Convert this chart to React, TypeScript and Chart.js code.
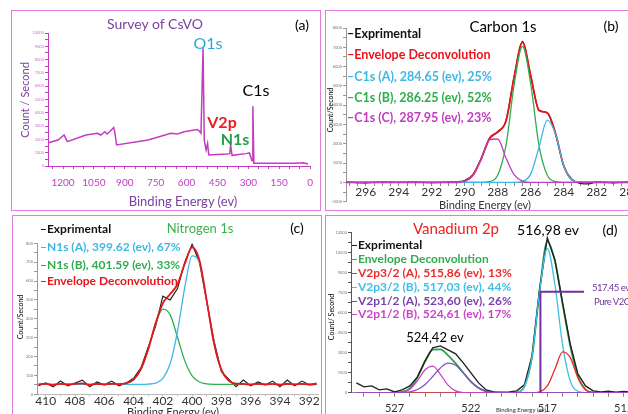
import React, { useEffect, useRef } from 'react';
import { Chart, registerables } from 'chart.js';

Chart.register(...registerables);

const FONT = 'Lato, "Open Sans", sans-serif';

// ---------- (a) Survey of CsVO ----------
const surveyEnergy = [1271, 1224, 1195, 1179, 1089, 1033, 1017, 997, 986, 970, 954, 949, 940, 787, 676, 644, 612, 549, 541, 530, 520, 514, 505, 498, 492, 406, 390, 386, 379, 311, 295, 282, 278, 273, 73, 33, 10];
const surveyCounts = [1.75, 1.95, 2.33, 1.83, 2.33, 2.46, 2.33, 2.58, 2.41, 2.63, 2.9, 2.58, 1.58, 1.95, 2.46, 2.41, 2.58, 2.75, 2.66, 2.46, 8.85, 1.95, 1.2, 1.7, 0.83, 0.9, 0.93, 1.58, 0.8, 0.93, 0.98, 0.4, 4.5, 0.2, 0.2, 0.25, 0.15];

// ---------- (b) Carbon 1s ----------
const c1sEnergy = [297.2, 296, 295, 294, 293, 292, 291, 290.5, 290, 289.5, 289, 288.5, 288, 287.5, 287, 286.5, 286, 285.5, 285, 284.5, 284, 283.5, 283, 282.5, 282, 281, 280, 279.8];
const c1sExp = [0.02, -0.02, 0.03, 0, 0.02, -0.01, 0.02, 0.03, 0.1, 0.42, 1.25, 2.3, 2.6, 3.2, 5.5, 7.3, 5.5, 3.75, 3.6, 2.5, 0.85, 0.15, -0.05, -0.08, 0.02, -0.02, 0.03, 0];
const c1sEnvelope = [0, 0, 0, 0, 0, 0, 0, 0, 0.06, 0.37, 1.22, 2.26, 2.63, 3.18, 5.48, 7.25, 5.53, 3.73, 3.61, 2.56, 0.86, 0.13, 0.01, 0, 0, 0, 0, 0];
const c1sA = [0, 0, 0, 0, 0, 0, 0, 0, 0, 0, 0, 0, 0, 0, 0, 0.05, 0.44, 1.81, 3.23, 2.52, 0.86, 0.13, 0.01, 0, 0, 0, 0, 0];
const c1sB = [0, 0, 0, 0, 0, 0, 0, 0, 0, 0, 0, 0.04, 0.38, 1.92, 5.09, 7.05, 5.09, 1.92, 0.38, 0.04, 0, 0, 0, 0, 0, 0, 0, 0];
const c1sC = [0, 0, 0, 0, 0, 0, 0, 0, 0.06, 0.37, 1.22, 2.22, 2.25, 1.26, 0.39, 0.07, 0, 0, 0, 0, 0, 0, 0, 0, 0, 0, 0, 0];

// ---------- (c) Nitrogen 1s ----------
const n1sEnergy = [410.5, 410, 409.5, 409, 408.5, 408, 407.5, 407, 406.5, 406, 405.5, 405, 404.5, 404, 403.5, 403, 402.5, 402, 401.5, 401, 400.5, 400, 399.5, 399, 398.5, 398, 397.5, 397, 396.5, 396, 395.5, 395, 394.5, 394, 393.5, 393, 392.5, 392, 391.5];
const n1sExp = [0.45, 0.6, 0.4, 0.7, 0.45, 0.6, 0.75, 0.4, 0.65, 0.5, 0.7, 0.45, 0.6, 0.85, 1.4, 2.5, 3.6, 5.2, 5.0, 5.6, 7.0, 7.95, 7.0, 4.9, 2.8, 1.2, 0.8, 0.4, 0.75, 0.45, 0.65, 0.5, 0.7, 0.4, 0.75, 0.45, 0.7, 0.5, 0.6];
const n1sEnvelope = [0.53, 0.56, 0.5, 0.55, 0.52, 0.55, 0.58, 0.5, 0.55, 0.52, 0.56, 0.54, 0.59, 0.78, 1.33, 2.39, 3.76, 4.82, 5.31, 5.83, 6.92, 7.78, 7.1, 4.95, 2.69, 1.29, 0.72, 0.56, 0.55, 0.51, 0.56, 0.52, 0.55, 0.5, 0.56, 0.52, 0.55, 0.52, 0.54];
const n1sA = [0.53, 0.53, 0.53, 0.53, 0.53, 0.53, 0.53, 0.53, 0.53, 0.53, 0.53, 0.53, 0.53, 0.53, 0.53, 0.54, 0.59, 0.84, 1.63, 3.34, 5.68, 7.33, 6.98, 4.93, 2.69, 1.29, 0.72, 0.56, 0.53, 0.53, 0.53, 0.53, 0.53, 0.53, 0.53, 0.53, 0.53, 0.53, 0.53];
const n1sB = [0.53, 0.53, 0.53, 0.53, 0.53, 0.53, 0.53, 0.53, 0.53, 0.53, 0.53, 0.54, 0.59, 0.78, 1.33, 2.38, 3.7, 4.51, 4.21, 3.02, 1.77, 0.98, 0.65, 0.55, 0.53, 0.53, 0.53, 0.53, 0.53, 0.53, 0.53, 0.53, 0.53, 0.53, 0.53, 0.53, 0.53, 0.53, 0.53];

// ---------- (d) Vanadium 2p ----------
const v2pEnergy = [529.5, 529, 528.5, 528, 527.5, 527, 526.5, 526, 525.5, 525, 524.5, 524, 523.5, 523, 522.5, 522, 521.5, 521, 520.5, 520, 519.5, 519, 518.5, 518, 517.5, 517, 516.5, 516, 515.5, 515, 514.5, 514, 513.5, 513, 512.5, 512, 511.5, 511];
const v2pExp = [0.5, 0.3, 0.35, 0.15, 0.2, 0.05, 0.15, 0.35, 0.8, 1.6, 2.25, 2.35, 2.15, 1.95, 1.5, 1.0, 0.5, 0.15, 0.05, 0.03, 0.05, 0.1, 0.4, 1.85, 5.2, 7.75, 6.65, 4.5, 2.45, 0.95, 0.35, 0.1, 0.05, 0.08, 0.03, 0.07, 0.04, 0.05];
const v2pEnvelope = [0, 0, 0, 0, 0, 0, 0.05, 0.23, 0.77, 1.58, 2.16, 2.18, 1.88, 1.48, 1.01, 0.56, 0.25, 0.08, 0.02, 0, 0, 0.03, 0.33, 1.8, 5.15, 7.58, 6.59, 4.45, 2.36, 0.84, 0.17, 0.02, 0, 0, 0, 0, 0, 0];
const v2p32A = [0, 0, 0, 0, 0, 0, 0, 0, 0, 0, 0, 0, 0, 0, 0, 0, 0, 0, 0, 0, 0, 0, 0, 0, 0.05, 0.35, 1.19, 2.05, 1.76, 0.76, 0.16, 0.02, 0, 0, 0, 0, 0, 0];
const v2p32B = [0, 0, 0, 0, 0, 0, 0, 0, 0, 0, 0, 0, 0, 0, 0, 0, 0, 0, 0, 0, 0, 0.03, 0.33, 1.8, 5.1, 7.23, 5.4, 2.4, 0.6, 0.08, 0.01, 0, 0, 0, 0, 0, 0, 0];
const v2p12A = [0, 0, 0, 0, 0, 0, 0.02, 0.05, 0.17, 0.42, 0.82, 1.25, 1.49, 1.38, 1.0, 0.56, 0.25, 0.08, 0.02, 0, 0, 0, 0, 0, 0, 0, 0, 0, 0, 0, 0, 0, 0, 0, 0, 0, 0, 0];
const v2p12B = [0, 0, 0, 0, 0, 0, 0.03, 0.18, 0.6, 1.16, 1.34, 0.93, 0.39, 0.1, 0.01, 0, 0, 0, 0, 0, 0, 0, 0, 0, 0, 0, 0, 0, 0, 0, 0, 0, 0, 0, 0, 0, 0, 0];
const pureV2O5Energy = [517.45, 517.45, 514.6];
const pureV2O5Level = [0, 5.06, 5.06];

type Line = { x: number[]; y: number[]; color: string; width: number; smooth?: boolean };
type PanelCfg = {
  left: number; top: number; width: number; height: number;
  pad: { left: number; top: number; right: number; bottom: number };
  xH: number; yW: number;
  lines: Line[];
  xMin: number; xMax: number; xStep: number; xLabel: (v: number) => string;
  xFont: number; xColor: string; xPad: number; xTick: number; xAxisColor: string; xAtZero?: boolean;
  yMin: number; yMax: number; yStep: number; yLabel: (v: number) => string;
  yColor: string; yAxisColor: string;
};

const isInt = (v: number) => Math.abs(v - Math.round(v)) < 1e-6;

const panels: PanelCfg[] = [
  {
    left: 12, top: 11, width: 309, height: 200,
    pad: { left: 16, top: 22, right: 5, bottom: 15 }, xH: 30, yW: 20,
    lines: [{ x: surveyEnergy, y: surveyCounts, color: '#c23cc2', width: 1.5 }],
    xMin: 0, xMax: 1273, xStep: 50,
    xLabel: (v) => (isInt(v / 150) ? String(Math.round(v)) : ''),
    xFont: 10, xColor: '#c23cc2', xPad: 8, xTick: 3, xAxisColor: '#c23cc2',
    yMin: 0, yMax: 10, yStep: 0.5, yLabel: (v) => (isInt(v) ? String(Math.round(v * 1000)) : ''),
    yColor: '#d070d0', yAxisColor: '#c23cc2',
  },
  {
    left: 326, top: 11, width: 340, height: 200,
    pad: { left: 2, top: 17, right: 33, bottom: 9.3 }, xH: 0, yW: 18,
    lines: [
      { x: c1sEnergy, y: c1sC, color: '#c23cc2', width: 1.3, smooth: true },
      { x: c1sEnergy, y: c1sA, color: '#3cb8e4', width: 1.3, smooth: true },
      { x: c1sEnergy, y: c1sB, color: '#2fae4e', width: 1.3, smooth: true },
      { x: c1sEnergy, y: c1sEnvelope, color: '#e8141c', width: 1.8, smooth: true },
      { x: c1sEnergy, y: c1sExp, color: '#222222', width: 1.3, smooth: true },
    ],
    xMin: 279.8, xMax: 297.2, xStep: 0.5,
    xLabel: (v) => (isInt(v / 2) ? String(Math.round(v)) : ''),
    xFont: 12, xColor: '#333333', xPad: 0, xTick: 3, xAxisColor: '#888888', xAtZero: true,
    yMin: -1, yMax: 8, yStep: 0.5, yLabel: (v) => (isInt(v) ? String(Math.round(v * 1000)) : ''),
    yColor: '#777777', yAxisColor: '#999999',
  },
  {
    left: 13, top: 216, width: 309, height: 198,
    pad: { left: 4, top: 27.3, right: 4, bottom: 0 }, xH: 19.7, yW: 20,
    lines: [
      { x: n1sEnergy, y: n1sEnvelope, color: '#e8141c', width: 1.8, smooth: true },
      { x: n1sEnergy, y: n1sA, color: '#3cb8e4', width: 1.3, smooth: true },
      { x: n1sEnergy, y: n1sB, color: '#2fae4e', width: 1.3, smooth: true },
      { x: n1sEnergy, y: n1sExp, color: '#222222', width: 1.2 },
    ],
    xMin: 391.4, xMax: 410.6, xStep: 1,
    xLabel: (v) => (isInt(v / 2) ? String(Math.round(v)) : ''),
    xFont: 12, xColor: '#333333', xPad: -2, xTick: 2, xAxisColor: '#bbbbbb',
    yMin: 0, yMax: 8, yStep: 0.5, yLabel: (v) => (isInt(v) ? String(Math.round(v * 100)) : ''),
    yColor: '#777777', yAxisColor: '#999999',
  },
  {
    left: 326, top: 216, width: 340, height: 198,
    pad: { left: 5, top: 16.9, right: 19.4, bottom: 0 }, xH: 21.1, yW: 20,
    lines: [
      { x: pureV2O5Energy, y: pureV2O5Level, color: '#7030a0', width: 2 },
      { x: v2pEnergy, y: v2p12A, color: '#8a4fc0', width: 1.3, smooth: true },
      { x: v2pEnergy, y: v2p12B, color: '#cc44cc', width: 1.3, smooth: true },
      { x: v2pEnergy, y: v2p32A, color: '#ee2a2a', width: 1.3, smooth: true },
      { x: v2pEnergy, y: v2p32B, color: '#3cc0e6', width: 1.3, smooth: true },
      { x: v2pEnergy, y: v2pExp, color: '#222222', width: 1.4 },
      { x: v2pEnergy, y: v2pEnvelope, color: '#2e9e4e', width: 1.8, smooth: true },
    ],
    xMin: 510.5, xMax: 529.85, xStep: 1,
    xLabel: (v) => (isInt(v) && isInt((527 - v) / 5) ? String(Math.round(v)) : ''),
    xFont: 11, xColor: '#333333', xPad: 5, xTick: 4, xAxisColor: '#888888',
    yMin: 0, yMax: 8, yStep: 0.5, yLabel: (v) => (isInt(v) ? String(Math.round(v * 1500)) : ''),
    yColor: '#777777', yAxisColor: '#555555',
  },
];

function createChart(canvas: HTMLCanvasElement, p: PanelCfg) {
  return new Chart(canvas, {
    type: 'line',
    data: {
      datasets: p.lines.map((l) => ({
        data: l.x.map((x, i) => ({ x, y: l.y[i] })),
        borderColor: l.color,
        borderWidth: l.width,
        pointRadius: 0,
        fill: false,
        tension: l.smooth ? 0.4 : 0,
        cubicInterpolationMode: l.smooth ? 'monotone' : 'default',
      })),
    },
    options: {
      animation: false,
      responsive: false,
      events: [],
      layout: { padding: p.pad },
      plugins: { legend: { display: false }, tooltip: { enabled: false } },
      scales: {
        x: {
          type: 'linear', reverse: true, min: p.xMin, max: p.xMax,
          position: p.xAtZero ? { y: 0 } : 'bottom',
          afterFit: (s: any) => { s.height = p.xH; },
          border: { display: true, color: p.xAxisColor, width: 1 },
          grid: { drawOnChartArea: false, drawTicks: true, tickLength: p.xTick, color: p.xAxisColor, lineWidth: 1 },
          ticks: {
            stepSize: p.xStep, autoSkip: false, maxRotation: 0, minRotation: 0, includeBounds: false,
            padding: p.xPad, color: p.xColor, font: { family: FONT, size: p.xFont },
            callback: (v: any) => p.xLabel(Number(v)),
          },
        },
        y: {
          type: 'linear', position: 'left', min: p.yMin, max: p.yMax,
          afterFit: (s: any) => { s.width = p.yW; },
          border: { display: true, color: p.yAxisColor, width: 1, dash: [1.5, 1.5] },
          grid: { drawOnChartArea: false, drawTicks: true, tickLength: 3, color: p.yAxisColor },
          ticks: {
            stepSize: p.yStep, autoSkip: false, padding: 1, color: p.yColor,
            font: { family: FONT, size: 4 },
            callback: (v: any) => p.yLabel(Number(v)),
          },
        },
      },
    },
  } as any);
}

type TP = { x: number; y: number; s: string; c?: string; size?: number; w?: number | string; center?: boolean; rot?: boolean; ls?: number };
const T = ({ x, y, s, c = '#000', size = 11, w = 400, center = false, rot = false, ls = 0 }: TP) => (
  <div
    style={{
      position: 'absolute', left: x, top: y, color: c, fontSize: size, fontWeight: w as any,
      fontFamily: FONT, whiteSpace: 'nowrap', lineHeight: 1, letterSpacing: ls,
      transform: `translate(${center || rot ? '-50%' : '0'}, -50%)${rot ? ' rotate(-90deg)' : ''}`,
      zIndex: 2,
    }}
  >
    {s}
  </div>
);

const BORDER = '#e07be0';
const Box = ({ l, t, w, h }: { l: number; t: number; w: number; h: number }) => (
  <div style={{ position: 'absolute', left: l, top: t, width: w, height: h, border: `1.5px solid ${BORDER}`, boxSizing: 'border-box', zIndex: 3 }} />
);

export default function App() {
  const refs = [useRef<HTMLCanvasElement>(null), useRef<HTMLCanvasElement>(null), useRef<HTMLCanvasElement>(null), useRef<HTMLCanvasElement>(null)];
  useEffect(() => {
    const charts = panels.map((p, i) => createChart(refs[i].current as HTMLCanvasElement, p));
    return () => charts.forEach((c) => c.destroy());
  }, []);

  return (
    <div style={{ position: 'fixed', left: 0, top: 0, width: 628, height: 414, overflow: 'hidden', background: '#fff' }}>
      {panels.map((p, i) => (
        <canvas key={i} ref={refs[i]} width={p.width} height={p.height}
          style={{ position: 'absolute', left: p.left, top: p.top, width: p.width, height: p.height, zIndex: 1 }} />
      ))}
      <Box l={11} t={10} w={310} h={201} />
      <Box l={325} t={10} w={330} h={201} />
      <Box l={12} t={215} w={310} h={230} />
      <Box l={325} t={215} w={330} h={230} />

      {/* (a) */}
      <T x={155} y={24} s="Survey of CsVO" c="#7b3fa0" size={14} center />
      <T x={302} y={25} s="(a)" size={14} center />
      <T x={208} y={43} s="O1s" c="#2aa8d8" size={16} center />
      <T x={256} y={90} s="C1s" size={16} center />
      <T x={222} y={122} s="V2p" c="#e81c1c" size={16} w={700} center />
      <T x={235} y={139} s="N1s" c="#22a04a" size={16} w={700} center />
      <T x={24} y={100} s="Count / Second" c="#7b3fa0" size={11} rot />
      <T x={183} y={201} s="Binding Energy (ev)" c="#7b3fa0" size={13} center />

      {/* (b) */}
      <T x={503} y={26} s="Carbon 1s" size={15} center />
      <T x={611} y={26} s="(b)" size={14} center />
      <T x={347} y={34} s="–Exprimental" c="#111" size={12.5} w={700} />
      <T x={347} y={55} s="–Envelope Deconvolution" c="#e8141c" size={12.5} w={700} />
      <T x={347} y={77} s="–C1s (A), 284.65 (ev), 25%" c="#3cb8e4" size={12.5} w={700} />
      <T x={347} y={98} s="–C1s (B), 286.25 (ev), 52%" c="#2fae4e" size={12.5} w={700} />
      <T x={347} y={118} s="–C1s (C), 287.95 (ev), 23%" c="#c23cc2" size={12.5} w={700} />
      <T x={330} y={110} s="Count/Second" size={7} rot />
      <T x={485} y={204} s="Binding Energy (ev)" c="#333" size={11} center />

      {/* (c) */}
      <T x={200} y={228} s="Nitrogen 1s" c="#3cb04a" size={13} center />
      <T x={297} y={228} s="(c)" size={14} center />
      <T x={40} y={229} s="–Exprimental" c="#111" size={12} w={700} />
      <T x={40} y={247} s="–N1s (A), 399.62 (ev), 67%" c="#3cb8e4" size={12} w={700} />
      <T x={40} y={265} s="–N1s (B), 401.59 (ev), 33%" c="#2fae4e" size={12} w={700} />
      <T x={40} y={281} s="–Envelope Deconvolution" c="#e8141c" size={12} w={700} />
      <T x={20} y={317} s="Count/Second" size={7} rot />
      <T x={173} y={411} s="Binding Energy (ev)" c="#333" size={11} center />

      {/* (d) */}
      <T x={456} y={228} s="Vanadium 2p" c="#ee2020" size={15} center />
      <T x={548} y={230} s="516,98 ev" size={14} center />
      <T x={610} y={230} s="(d)" size={14} center />
      <T x={435} y={337} s="524,42 ev" size={13} center />
      <T x={592} y={288} s="517.45 ev" c="#7030a0" size={9.5} ls={-0.5} />
      <T x={594} y={302} s="Pure V2O5" c="#7030a0" size={9.5} ls={-0.5} />
      <T x={351} y={245} s="–Exprimental" c="#111" size={12} w={700} />
      <T x={351} y={259} s="–Envelope Deconvolution" c="#2fae4e" size={12} w={700} />
      <T x={351} y={273} s="–V2p3/2 (A), 515,86 (ev), 13%" c="#ee2a2a" size={12} w={700} />
      <T x={351} y={287} s="–V2p3/2 (B), 517,03 (ev), 44%" c="#3cc0e6" size={12} w={700} />
      <T x={351} y={301} s="–V2p1/2 (A), 523,60 (ev), 26%" c="#7a3fb0" size={12} w={700} />
      <T x={351} y={314} s="–V2p1/2 (B), 524,61 (ev), 17%" c="#cc44cc" size={12} w={700} />
      <T x={331} y={317} s="Count/ Second" size={7} rot />
      <T x={521} y={410} s="Binding Energy (ev)" c="#333" size={6} center />
    </div>
  );
}
